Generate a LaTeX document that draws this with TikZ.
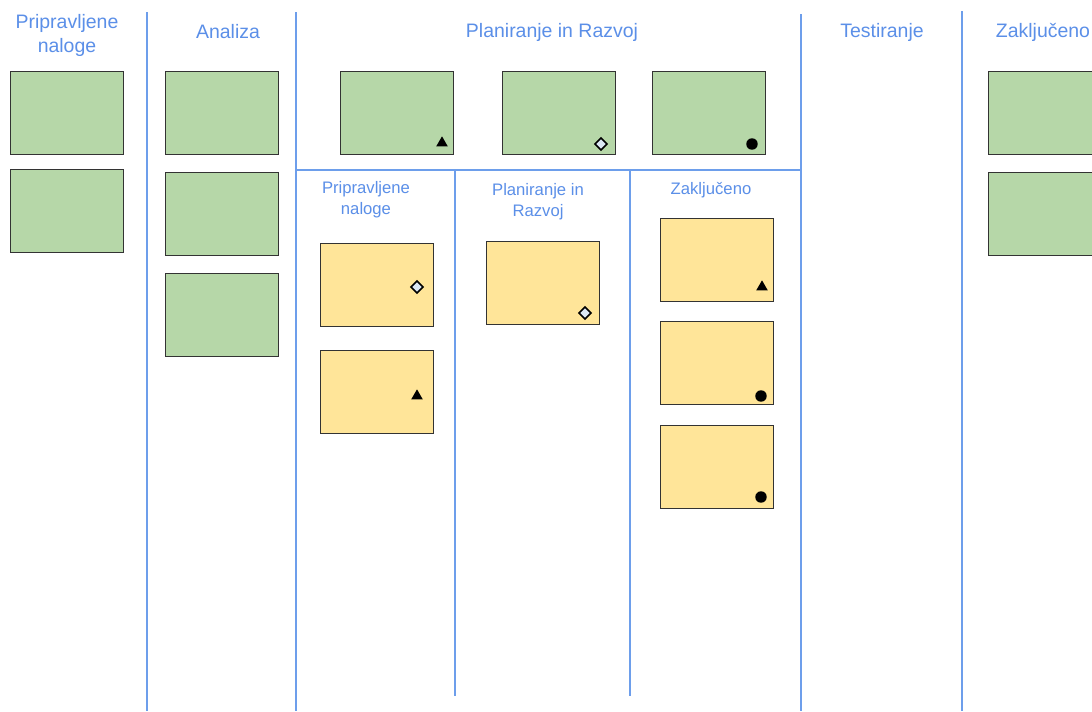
\documentclass[tikz,border=0pt]{standalone}
\usepackage{fontspec}
\setmainfont{Liberation Sans}
\usetikzlibrary{shapes.geometric,positioning}
\definecolor{laneblue}{HTML}{6D9EEB}
\definecolor{headblue}{HTML}{5B8FE8}
\definecolor{cardgreen}{HTML}{B6D7A8}
\definecolor{cardyellow}{HTML}{FFE599}
\definecolor{markfill}{HTML}{DCE8F5}

\begin{document}
\begin{tikzpicture}[
    x=0.75pt, y=-0.75pt,
    lane/.style={draw=laneblue, line width=1.5pt},
    head/.style={text=headblue, align=center, font=\fontsize{14.6}{18}\selectfont},
    subhead/.style={text=headblue, align=center, font=\fontsize{12.5}{15.75}\selectfont},
    card/.style={draw=black!80, line width=0.8pt, minimum width=84.75pt, minimum height=62.25pt, inner sep=0pt, anchor=north west},
    task/.style={card, fill=cardgreen},
    subtask/.style={card, fill=cardyellow},
    tri/.style={regular polygon, regular polygon sides=3, fill=black, minimum size=10pt, inner sep=0pt},
    dia/.style={diamond, draw=black, line width=1.2pt, fill=markfill, minimum size=9.5pt, inner sep=0pt},
    dot/.style={circle, fill=black, minimum size=8.6pt, inner sep=0pt}
]
    \clip (0,0) rectangle (1092,711);
    \fill[white] (0,0) rectangle (1092,711);

    % lanes
    \draw[lane] (147,12) -- (147,711);
    \draw[lane] (296,12) -- (296,711);
    \draw[lane] (801,14) -- (801,711);
    \draw[lane] (962,11) -- (962,711);
    \draw[lane] (296,170) -- (801,170);
    \draw[lane] (455,170) -- (455,696);
    \draw[lane] (630,170) -- (630,696);

    % column headers
    \node[head] (hready) at (67,35) {Pripravljene\\naloge};
    \node[head] (hanal) at (228,32) {Analiza};
    \node[head] (hplan) at (552,32) {Planiranje in Razvoj};
    \node[head] (htest) at (882,32) {Testiranje};
    \node[head] (hdone) at (1043,32) {Zaključeno};

    % sub headers
    \node[subhead] (sready) at (366,200) {Pripravljene\\naloge};
    \node[subhead] (splan) at (538,202) {Planiranje in\\Razvoj};
    \node[subhead] (sdone) at (711,190) {Zaključeno};

    % green cards
    \node[task] (r1) at (10,71) {};
    \node[task] (r2) at (10,169) {};
    \node[task] (a1) at (165,71) {};
    \node[task] (a2) at (165,172) {};
    \node[task] (a3) at (165,273) {};
    \node[task] (p1) at (340,71) {};
    \node[task] (p2) at (502,71) {};
    \node[task] (p3) at (652,71) {};
    \node[task] (d1) at (988,71) {};
    \node[task] (d2) at (988,172) {};

    % yellow cards
    \node[subtask] (sr1) at (320,243) {};
    \node[subtask] (sr2) at (320,350) {};
    \node[subtask] (sp1) at (486,241) {};
    \node[subtask] (sd1) at (660,218) {};
    \node[subtask] (sd2) at (660,321) {};
    \node[subtask] (sd3) at (660,425) {};

    % marks
    \node[tri] at (442,143) {};
    \node[dia] at (601,144) {};
    \node[dot] at (752,144) {};
    \node[dia] at (417,287) {};
    \node[tri] at (417,396) {};
    \node[dia] at (585,313) {};
    \node[tri] at (762,287) {};
    \node[dot] at (761,396) {};
    \node[dot] at (761,497) {};
\end{tikzpicture}
\end{document}
